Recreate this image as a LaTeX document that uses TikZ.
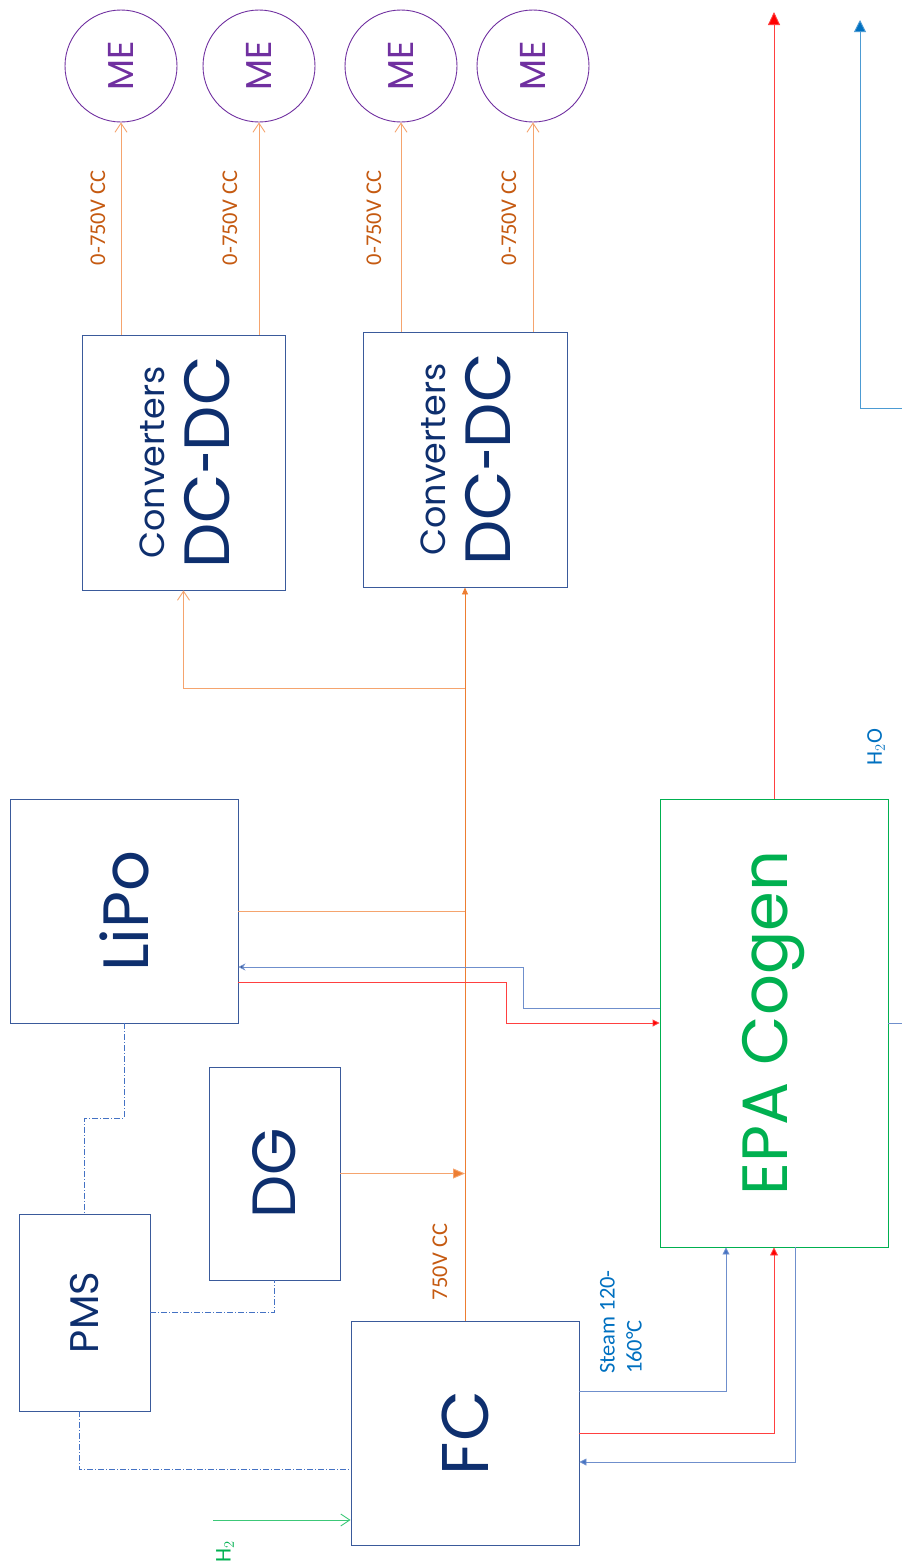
\documentclass[tikz,border=0pt]{standalone}
\usepackage{fontspec}
\setmainfont{Carlito}
\newfontfamily\boxfont{Poppins}
\usetikzlibrary{arrows.meta, positioning}

\definecolor{navy}{HTML}{0E2F6E}
\definecolor{boxblue}{HTML}{3A5A9B}
\definecolor{mepurple}{HTML}{7030A0}
\definecolor{cogreen}{HTML}{00B050}
\definecolor{buscol}{HTML}{ED7D31}
\definecolor{lightorange}{HTML}{F5A46E}
\definecolor{labelorange}{HTML}{C55A11}
\definecolor{heatred}{HTML}{FF4040}
\definecolor{waterblue}{HTML}{6F8FCC}
\definecolor{tipblue}{HTML}{4472C4}
\definecolor{h2oblue}{HTML}{0070C0}
\definecolor{h2green}{HTML}{3CC878}

\newcommand{\dcdc}{DC\scalebox{0.65}[1]{-}DC}

\tikzset{
  blk/.style={draw=boxblue, line width=0.9pt, inner sep=0pt, text=navy, font=\boxfont},
  me/.style={circle, draw=mepurple, line width=0.9pt, minimum size=112, inner sep=0pt,
    text=mepurple, font=\boxfont\fontsize{36}{36}\selectfont},
  vlabel/.style={rotate=90, inner sep=0pt, font=\fontsize{22.5}{27}\selectfont},
  bigtxt/.style={font=\boxfont\fontsize{#1}{#1}\selectfont},
  openhead/.style={-{Straight Barb[length=9pt, width=12pt]}},
  ctrl/.style={draw=tipblue, line width=0.8pt, dash pattern=on 6pt off 2pt on 1pt off 2pt}
}

\begin{document}
\begin{tikzpicture}[x=1pt, y=-1pt, line width=0.9pt]
  \useasboundingbox (0,0) rectangle (902,1564);

  % motors
  \node[me] (me1) at (121,66) {\rotatebox{90}{ME}};
  \node[me] (me2) at (259,66) {\rotatebox{90}{ME}};
  \node[me] (me3) at (401,66) {\rotatebox{90}{ME}};
  \node[me] (me4) at (533,66) {\rotatebox{90}{ME}};

  % blocks
  \node[blk, minimum width=203, minimum height=255] (conv1) at (183.5,462.5)
    {\rotatebox{90}{\fontsize{64}{65}\selectfont\begin{tabular}{@{}c@{}}{\fontsize{35}{35}\selectfont Converters}\\\dcdc\end{tabular}}};
  \node[blk, minimum width=204, minimum height=255] (conv2) at (465,459.5)
    {\rotatebox{90}{\fontsize{64}{65}\selectfont\begin{tabular}{@{}c@{}}{\fontsize{35}{35}\selectfont Converters}\\\dcdc\end{tabular}}};
  \node[blk, bigtxt=64, minimum width=228, minimum height=224] (lipo) at (124,911) {\rotatebox{90}{LiPo}};
  \node[blk, bigtxt=64, draw=cogreen, text=cogreen, minimum width=228, minimum height=448] (epa) at (774,1023) {\rotatebox{90}{EPA Cogen}};
  \node[blk, bigtxt=61, minimum width=131, minimum height=213] (dg) at (274.5,1173.5) {\rotatebox{90}{DG}};
  \node[blk, bigtxt=40, minimum width=131, minimum height=197] (pms) at (84.5,1312.5) {\rotatebox{90}{PMS}};
  \node[blk, bigtxt=66, minimum width=228, minimum height=224] (fc) at (465,1433) {\rotatebox{90}{FC}};

  % electrical
  \foreach \m/\c in {me1/conv1, me2/conv1, me3/conv2, me4/conv2}
    \draw[lightorange, openhead] (\m.south |- \c.north) -- (\m.south);
  \node[vlabel, text=labelorange] (v1) at (98,218) {0-750V CC};
  \node[vlabel, text=labelorange] (v2) at (230,218) {0-750V CC};
  \node[vlabel, text=labelorange] (v3) at (374,218) {0-750V CC};
  \node[vlabel, text=labelorange] (v4) at (509,218) {0-750V CC};

  \coordinate (split) at (465,688);
  \draw[buscol, -{Triangle[length=7pt, width=6pt]}] (fc.north) -- (conv2.south);
  \draw[lightorange, openhead] (split) -| (conv1.south);
  \draw[lightorange] (lipo.east) -- (lipo.east -| fc.north);
  \draw[lightorange, -{Triangle[length=12pt, width=10pt, fill=buscol]}] (dg.east) -- (dg.east -| fc.north);
  \node[vlabel, text=labelorange] (vfc) at (440,1262) {750V CC};

  % heat and water
  \draw[heatred, -{Triangle[length=7pt, width=7pt, fill=red]}] (lipo.east |- 0,982) -| (506,1023) -- (epa.west);
  \draw[waterblue, -{Stealth[length=7pt, width=7pt, fill=navy]}] (epa.west |- 0,1008) -| (523,967) -- (lipo.east |- 0,967);
  \coordinate (heatout) at (774,12);
  \draw[heatred, -{Triangle[length=13pt, width=12pt, fill=red]}] (epa.north) -- (heatout);
  \coordinate (edgeR) at (902,1023);
  \draw[waterblue] (epa.east) -- (edgeR);
  \coordinate (h2oin) at (902,408);
  \coordinate (h2oout) at (860,20);
  \draw[h2oblue!70, -{Triangle[length=12pt, width=12pt, fill=h2oblue]}] (h2oin) -| (h2oout);
  \node[vlabel, text=h2oblue] (h2o) at (876,747) {H$_2$O};

  \draw[waterblue, -{Triangle[length=7pt, width=7pt, fill=tipblue]}] (fc.east |- 0,1391) -| (epa.south -| 726,0);
  \draw[heatred, -{Triangle[length=8pt, width=8pt, fill=red]}] (fc.east |- 0,1433) -| (epa.south);
  \draw[waterblue, -{Triangle[length=7pt, width=7pt, fill=tipblue]}] (epa.south -| 795,0) |- (fc.east |- 0,1462);
  \node[vlabel, text=h2oblue, align=left] (steam) at (621,1322) {Steam 120-\\160°C};

  % hydrogen
  \coordinate (h2in) at (213,1520);
  \draw[h2green, openhead] (h2in) -- (fc.west |- h2in);
  \node[vlabel, text=cogreen] (h2) at (225,1552) {H$_2$};

  % control
  \draw[ctrl] (lipo.south) -- ++(0,95) -| (pms.north);
  \draw[ctrl] (pms.east) -| (dg.south);
  \draw[ctrl] (pms.south -| 79,0) |- (fc.west |- 0,1469);
\end{tikzpicture}
\end{document}
